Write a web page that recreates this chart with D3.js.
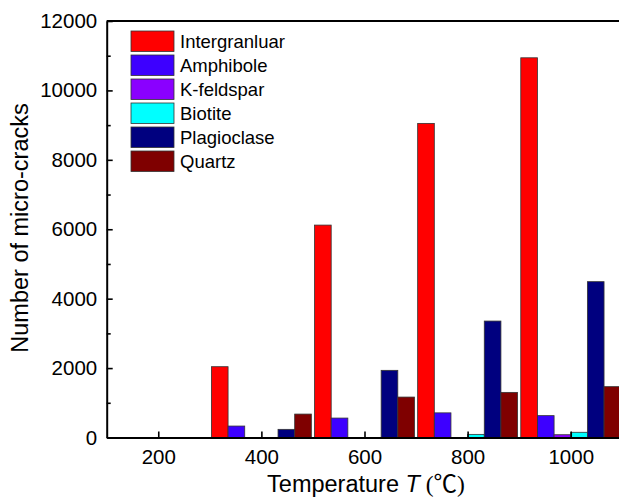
<!DOCTYPE html>
<html>
<head>
<meta charset="utf-8">
<script src="https://cdn.jsdelivr.net/npm/d3@7"></script>
<style>
  html, body { margin: 0; padding: 0; background: #fff; }
  svg { display: block; }
  text { font-family: "Liberation Sans", Arial, sans-serif; fill: #000; }
</style>
</head>
<body>
<svg id="chart" width="619" height="503"></svg>
<script>
// ---- data ----
const temperatures = [200, 400, 600, 800, 1000];
const intergranular = [0, 2040, 6120, 9050, 10940];
const amphibole = [0, 330, 560, 710, 630];
const kfeldspar = [0, 0, 0, 0, 80];
const biotite = [0, 0, 0, 90, 150];
const plagioclase = [0, 235, 1935, 3355, 4490];
const quartz = [0, 675, 1165, 1300, 1465];
const seriesNames = ["Intergranluar", "Amphibole", "K-feldspar", "Biotite", "Plagioclase", "Quartz"];
const seriesColors = ["#ff0000", "#3d00ff", "#8a00ff", "#00ffff", "#00007f", "#7f0000"];
const yTicks = [0, 2000, 4000, 6000, 8000, 10000, 12000];
const xTicks = [200, 400, 600, 800, 1000];

const seriesValues = [intergranular, amphibole, kfeldspar, biotite, plagioclase, quartz];

const svg = d3.select("#chart");
const x = d3.scaleLinear().domain([100, 1100]).range([106.7, 622.3]);
const y = d3.scaleLinear().domain([0, 12000]).range([437.5, 21]);
const barUnits = 32.3;

// bars
const bars = [];
seriesValues.forEach((vals, si) => {
  vals.forEach((v, ti) => {
    if (v > 0) bars.push({ si, t: temperatures[ti], v });
  });
});
svg.append("g").selectAll("rect").data(bars).join("rect")
  .attr("x", d => x(d.t - 3 * barUnits + d.si * barUnits))
  .attr("width", d => x(d.t - 2 * barUnits + d.si * barUnits) - x(d.t - 3 * barUnits + d.si * barUnits))
  .attr("y", d => y(d.v))
  .attr("height", d => y(0) - y(d.v))
  .attr("fill", d => seriesColors[d.si])
  .attr("stroke", "#333")
  .attr("stroke-width", 0.8);

// axes
const axFont = "20.5px";
const gy = svg.append("g").attr("transform", `translate(${x(100)},0)`)
  .call(d3.axisLeft(y).tickValues(yTicks).tickFormat(d3.format("d")).tickSizeInner(-6).tickSizeOuter(0).tickPadding(9.5));
const gyMinor = svg.append("g").attr("transform", `translate(${x(100)},0)`)
  .call(d3.axisLeft(y).tickValues([1000, 3000, 5000, 7000, 9000, 11000]).tickFormat("").tickSizeInner(-4).tickSizeOuter(0));
gyMinor.select(".domain").remove();
const gx = svg.append("g").attr("transform", `translate(0,${y(0)})`)
  .call(d3.axisBottom(x).tickValues(xTicks).tickFormat(d3.format("d")).tickSizeInner(-6).tickSizeOuter(0).tickPadding(12));
[gy, gx].forEach(g => {
  g.selectAll("text").style("font-size", axFont).style("font-family", '"Liberation Sans", Arial, sans-serif').attr("fill", "#000");
  g.select(".domain").attr("stroke", "#000").attr("stroke-width", 2);
  g.selectAll(".tick line").attr("stroke", "#000").attr("stroke-width", 1.6);
});
gyMinor.selectAll(".tick line").attr("stroke", "#000").attr("stroke-width", 1.6);

// top & right frame
svg.append("line").attr("x1", x(100)).attr("x2", x(1100)).attr("y1", y(12000)).attr("y2", y(12000))
  .attr("stroke", "#000").attr("stroke-width", 2);
svg.append("line").attr("x1", x(1100)).attr("x2", x(1100)).attr("y1", y(12000)).attr("y2", y(0))
  .attr("stroke", "#000").attr("stroke-width", 2);

// axis titles
const xt = svg.append("text").attr("x", 366).attr("y", 492).attr("text-anchor", "middle").style("font-size", "23.5px");
xt.append("tspan").text("Temperature ");
xt.append("tspan").style("font-style", "italic").text("T");
xt.append("tspan").style("font-family", '"Liberation Serif", "Noto Sans CJK SC", serif').text(" (℃)");

svg.append("text").attr("transform", `translate(28,228) rotate(-90)`).attr("text-anchor", "middle")
  .style("font-size", "23.5px").text("Number of micro-cracks");

// legend
const lg = svg.append("g");
seriesNames.forEach((name, i) => {
  const yy = 31 + i * 24;
  lg.append("rect").attr("x", 131).attr("y", yy).attr("width", 43).attr("height", 20.5)
    .attr("fill", seriesColors[i]).attr("stroke", "#333").attr("stroke-width", 0.8);
  lg.append("text").attr("x", 180).attr("y", yy + 10.5).attr("dy", "0.35em")
    .style("font-size", "18.5px").text(name);
});
</script>
</body>
</html>
